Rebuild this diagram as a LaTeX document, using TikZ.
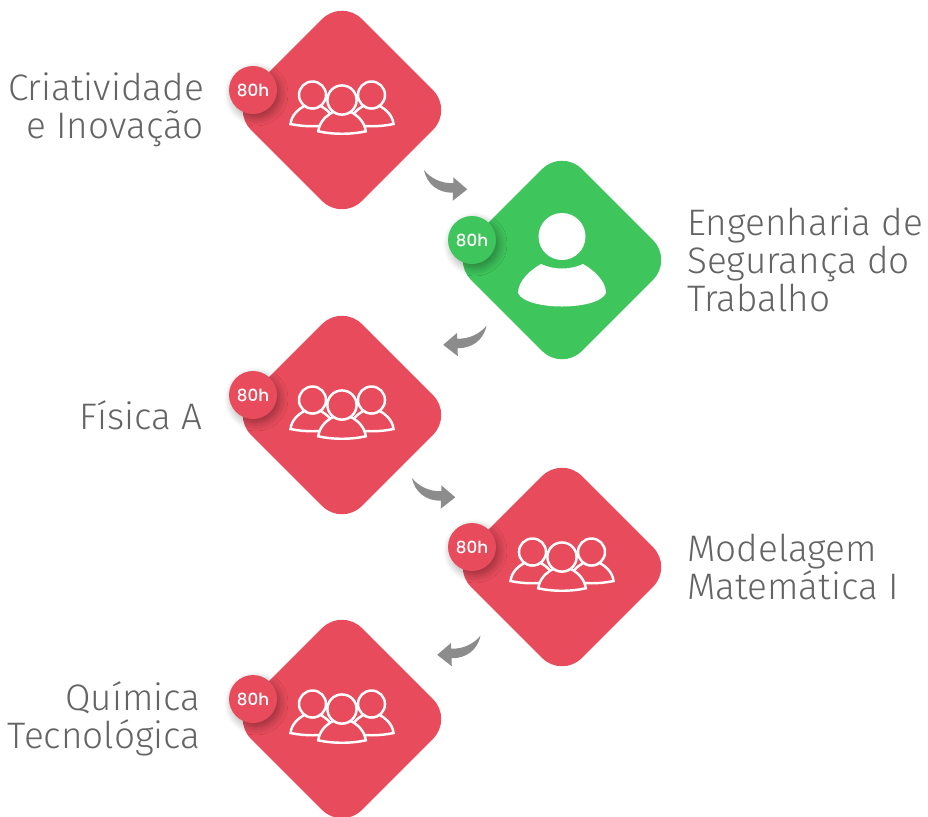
\documentclass[tikz,border=0pt]{standalone}
\usepackage{fontspec}
\setmainfont{Fira Sans Light}
\newfontfamily\badgefont{Poppins Medium}
\usetikzlibrary{
  arrows.meta,
  calc,
  positioning,
  shapes.geometric,
  shadows.blur
}
\definecolor{cardred}{RGB}{232,76,92}
\definecolor{cardgreen}{RGB}{62,197,92}
\definecolor{flowgray}{RGB}{140,140,140}
\definecolor{labelgray}{RGB}{100,100,100}

\tikzset{
  card/.style={shape=diamond, aspect=1, minimum size=4.44cm, inner sep=0pt,
               rounded corners=0.56cm, fill=#1},
  badge/.style={circle, minimum size=0.96cm, inner sep=0pt, fill=#1, text=white,
                font=\badgefont\fontsize{9.5}{10}\selectfont,
                blur shadow={shadow blur steps=8, shadow xshift=0.06cm, shadow yshift=-0.08cm,
                             shadow blur radius=0.16cm, shadow opacity=35}},
  caption/.style={text=labelgray, inner sep=0pt, font=\fontsize{21}{21.5}\selectfont},
  flow/.pic={
    \fill[flowgray] (0,0) .. controls (6,8) and (18,14) .. (29.3,13) -- (29.3,7.3)
      -- (43.3,19.3) -- (28.7,30.7) -- (29,22.7)
      .. controls (15,23) and (3,15) .. (0,0) -- cycle;
  },
  member/.pic={
    \draw[white, line width=1.4pt, fill=cardred] (-22,29) .. controls (-21,20) and (-14,14) .. (-8,11)
      .. controls (-4,14) and (4,14) .. (8,11) .. controls (14,14) and (21,20) .. (22,29)
      .. controls (8,32) and (-8,32) .. (-22,29) -- cycle;
    \draw[white, line width=1.4pt, fill=cardred] (0,0) circle (13.5);
  },
  group/.pic={
    \pic at (-29.5,-15) {member};
    \pic at (29.5,-15) {member};
    \pic[scale=1.08] at (0,-10) {member};
  },
  single/.pic={
    \fill[white] (0,-23.5) circle (23.5);
    \fill[white] (-21,4) .. controls (-30,9) and (-44,20) .. (-44,33)
      .. controls (-36,51) and (36,51) .. (44,33)
      .. controls (44,20) and (30,9) .. (21,4)
      .. controls (8,10) and (-8,10) .. (-21,4) -- cycle;
  }
}

\begin{document}
\begin{tikzpicture}[x=0.02cm, y=-0.02cm]
\useasboundingbox (0,0) rectangle (928,816);

\node[card=cardred] (crea) at (342,110) {};
\node[card=cardgreen] (safe) at (562,260) {};
\node[card=cardred] (phys) at (342,415) {};
\node[card=cardred] (math) at (562,567) {};
\node[card=cardred] (chem) at (342,719) {};

\node[badge=cardred] (creah) at (253,90) {80h};
\node[badge=cardgreen] (safeh) at (472,240) {80h};
\node[badge=cardred] (physh) at (253,395) {80h};
\node[badge=cardred] (mathh) at (472,547) {80h};
\node[badge=cardred] (chemh) at (253,699) {80h};

\pic at (crea) {group};
\pic at (phys) {group};
\pic at (math) {group};
\pic at (chem) {group};
\pic at (safe) {single};

\node[caption, align=right, left=0.53cm of crea.west] (crealab) {Criatividade\\e Inovação};
\node[caption, align=left, right=0.27cm of safe.east] (safelab) {Engenharia de\\Segurança do\\Trabalho};
\node[caption, align=right, left=0.56cm of phys.west] (physlab) {Física A};
\node[caption, align=left, right=0.27cm of math.east] (mathlab) {Modelagem\\Matemática I};
\node[caption, align=right, left=0.6cm of chem.west] (chemlab) {Química\\Tecnológica};

% Arrows between the cards
\pic at (424,170) {flow};
\pic[xscale=-1] at (486.5,325.5) {flow};
\pic at (412,478) {flow};
\pic[xscale=-1] at (480.5,635.5) {flow};

\end{tikzpicture}
\end{document}
